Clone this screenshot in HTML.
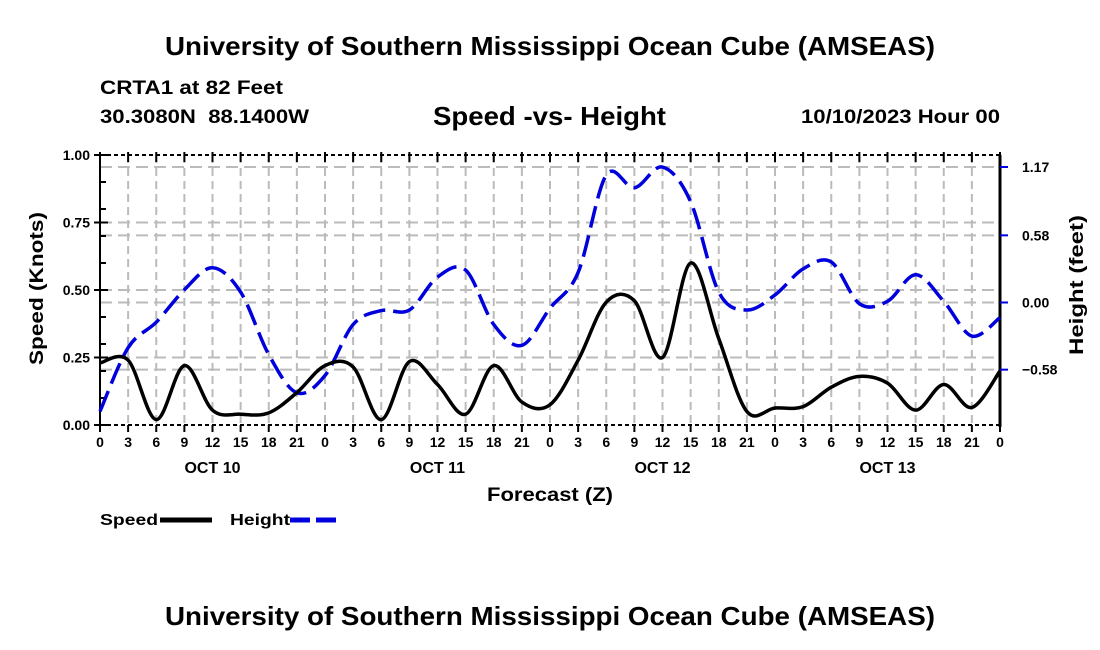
<!DOCTYPE html>
<html><head><meta charset="utf-8"><style>
html,body{margin:0;padding:0;background:#fff;}
svg{display:block;font-family:"Liberation Sans",Arial,sans-serif;font-weight:bold;}
</style></head><body>
<svg id="chart" width="1100" height="650" viewBox="0 0 1100 650">
<text x="165" y="55" font-size="26" textLength="770" lengthAdjust="spacingAndGlyphs">University of Southern Mississippi Ocean Cube (AMSEAS)</text>
<text x="100" y="94" font-size="19" textLength="183" lengthAdjust="spacingAndGlyphs">CRTA1 at 82 Feet</text>
<text x="100" y="123" font-size="19" xml:space="preserve" textLength="209" lengthAdjust="spacingAndGlyphs">30.3080N  88.1400W</text>
<text x="433" y="125" font-size="26" textLength="233" lengthAdjust="spacingAndGlyphs">Speed -vs- Height</text>
<text x="801" y="123" font-size="19" textLength="199" lengthAdjust="spacingAndGlyphs">10/10/2023 Hour 00</text>
<g id="grid"></g>
<g id="axes"></g>
<g id="series"></g>
<text x="487" y="501" font-size="19" textLength="126" lengthAdjust="spacingAndGlyphs">Forecast (Z)</text>
<text transform="translate(43,365) rotate(-90)" font-size="19" textLength="153" lengthAdjust="spacingAndGlyphs">Speed (Knots)</text>
<text transform="translate(1083,355) rotate(-90)" font-size="19" textLength="140" lengthAdjust="spacingAndGlyphs">Height (feet)</text>
<g>
<g><text x="100" y="525" font-size="16" textLength="58" lengthAdjust="spacingAndGlyphs">Speed</text><line x1="160" y1="520" x2="212" y2="520" stroke="#000" stroke-width="5"/></g>
<g><text x="230" y="525" font-size="16" textLength="60" lengthAdjust="spacingAndGlyphs">Height</text><line x1="290" y1="520" x2="342" y2="520" stroke="#0000dd" stroke-width="5" stroke-dasharray="20,6"/></g>
</g>
<text x="165" y="625" font-size="26" textLength="770" lengthAdjust="spacingAndGlyphs">University of Southern Mississippi Ocean Cube (AMSEAS)</text>
</svg>
<script>
const hours = [0,3,6,9,12,15,18,21,24,27,30,33,36,39,42,45,48,51,54,57,60,63,66,69,72,75,78,81,84,87,90,93,96];
const speedValues = [0.23,0.24,0.02,0.22,0.055,0.04,0.045,0.12,0.22,0.215,0.02,0.235,0.15,0.04,0.22,0.085,0.075,0.24,0.455,0.46,0.25,0.60,0.32,0.05,0.063,0.068,0.14,0.18,0.155,0.055,0.15,0.065,0.20];
const heightValues = [-0.94,-0.39,-0.17,0.11,0.30,0.09,-0.45,-0.78,-0.63,-0.19,-0.07,-0.065,0.22,0.28,-0.19,-0.37,-0.05,0.26,1.10,0.99,1.17,0.87,0.09,-0.065,0.065,0.29,0.35,-0.01,0.01,0.24,0.01,-0.29,-0.13];
const xTickLabels = ["0","3","6","9","12","15","18","21","0","3","6","9","12","15","18","21","0","3","6","9","12","15","18","21","0","3","6","9","12","15","18","21","0"];
const dayLabels = ["OCT 10","OCT 11","OCT 12","OCT 13"];
const speedTicks = [0,0.25,0.5,0.75,1.0];
const heightTicks = [-0.58,0,0.58,1.17];

const NS="http://www.w3.org/2000/svg";
const L=100,R=1000,T=155,B=425;
const xs=h=>L+(h/96)*(R-L);
const ys=s=>B-s*(B-T);
const yh=v=>302.5-v*115.8;
function mk(tag,attrs,parent,text){const e=document.createElementNS(NS,tag);for(const k in attrs)e.setAttribute(k,attrs[k]);if(text!==undefined)e.textContent=text;parent.appendChild(e);return e;}
const grid=document.getElementById('grid'),axes=document.getElementById('axes'),series=document.getElementById('series');
hours.forEach((h,i)=>{if(i>0&&i<hours.length-1){const l=mk('line',{x1:xs(h),y1:T,x2:xs(h),y2:B,stroke:'#bbb','stroke-width':2,'stroke-dasharray':'8,5'},grid);

}});
speedTicks.slice(1,-1).forEach(s=>{const l=mk('line',{x1:L,y1:ys(s),x2:R,y2:ys(s),stroke:'#bbb','stroke-width':2,'stroke-dasharray':'12,6'},grid);

});
heightTicks.forEach(v=>{const l=mk('line',{x1:L,y1:yh(v),x2:R,y2:yh(v),stroke:'#bbb','stroke-width':2,'stroke-dasharray':'12,6'},grid);

});
mk('line',{x1:L,y1:T,x2:R,y2:T,stroke:'#000','stroke-width':2,'stroke-dasharray':'4,3'},axes);
mk('line',{x1:L,y1:B,x2:R,y2:B,stroke:'#000','stroke-width':2,'stroke-dasharray':'4,3'},axes);
mk('line',{x1:L,y1:T,x2:L,y2:B,stroke:'#000','stroke-width':2},axes);
mk('line',{x1:R,y1:T,x2:R,y2:B+2,stroke:'#000','stroke-width':3},axes);
hours.forEach((h,i)=>{mk('line',{x1:xs(h),y1:B,x2:xs(h),y2:B+7,stroke:'#000','stroke-width':2},axes);
mk('line',{x1:xs(h),y1:T-3,x2:xs(h),y2:T+7,stroke:'#000','stroke-width':2},axes);
const t=mk('text',{x:xs(h),y:B+22,'text-anchor':'middle','font-size':14},axes,xTickLabels[i]);

});
dayLabels.forEach((d,i)=>{const t=mk('text',{x:xs(12+24*i),y:B+48,'text-anchor':'middle','font-size':16},axes,d);

});
for(let k=1;k<10;k++){mk('line',{x1:L,y1:ys(k/10),x2:L+6,y2:ys(k/10),stroke:'#000','stroke-width':2},axes);}
speedTicks.forEach(s=>{mk('line',{x1:L-6,y1:ys(s),x2:L+8,y2:ys(s),stroke:'#000','stroke-width':2},axes);
const t=mk('text',{x:L-10,y:ys(s)+5,'text-anchor':'end','font-size':14},axes,s.toFixed(2));

});
heightTicks.forEach(v=>{mk('line',{x1:R,y1:yh(v),x2:R+8,y2:yh(v),stroke:'#0000dd','stroke-width':2},axes);
const t=mk('text',{x:R+22,y:yh(v)+5,'font-size':14},axes,v.toFixed(2).replace('-','\u2212'));

});
function smooth(pts){let d=`M${pts[0][0]},${pts[0][1]}`;for(let i=0;i<pts.length-1;i++){const p0=pts[Math.max(0,i-1)],p1=pts[i],p2=pts[i+1],p3=pts[Math.min(pts.length-1,i+2)];
d+=` C${p1[0]+(p2[0]-p0[0])/6},${p1[1]+(p2[1]-p0[1])/6} ${p2[0]-(p3[0]-p1[0])/6},${p2[1]-(p3[1]-p1[1])/6} ${p2[0]},${p2[1]}`;}return d;}
const hp=mk('path',{d:smooth(hours.map((h,i)=>[xs(h),yh(heightValues[i])])),fill:'none',stroke:'#0000dd','stroke-width':3.5,'stroke-dasharray':'22,8'},series);


const sp=mk('path',{d:smooth(hours.map((h,i)=>[xs(h),ys(speedValues[i])])),fill:'none',stroke:'#000','stroke-width':3.5},series);


</script>
</body></html>
